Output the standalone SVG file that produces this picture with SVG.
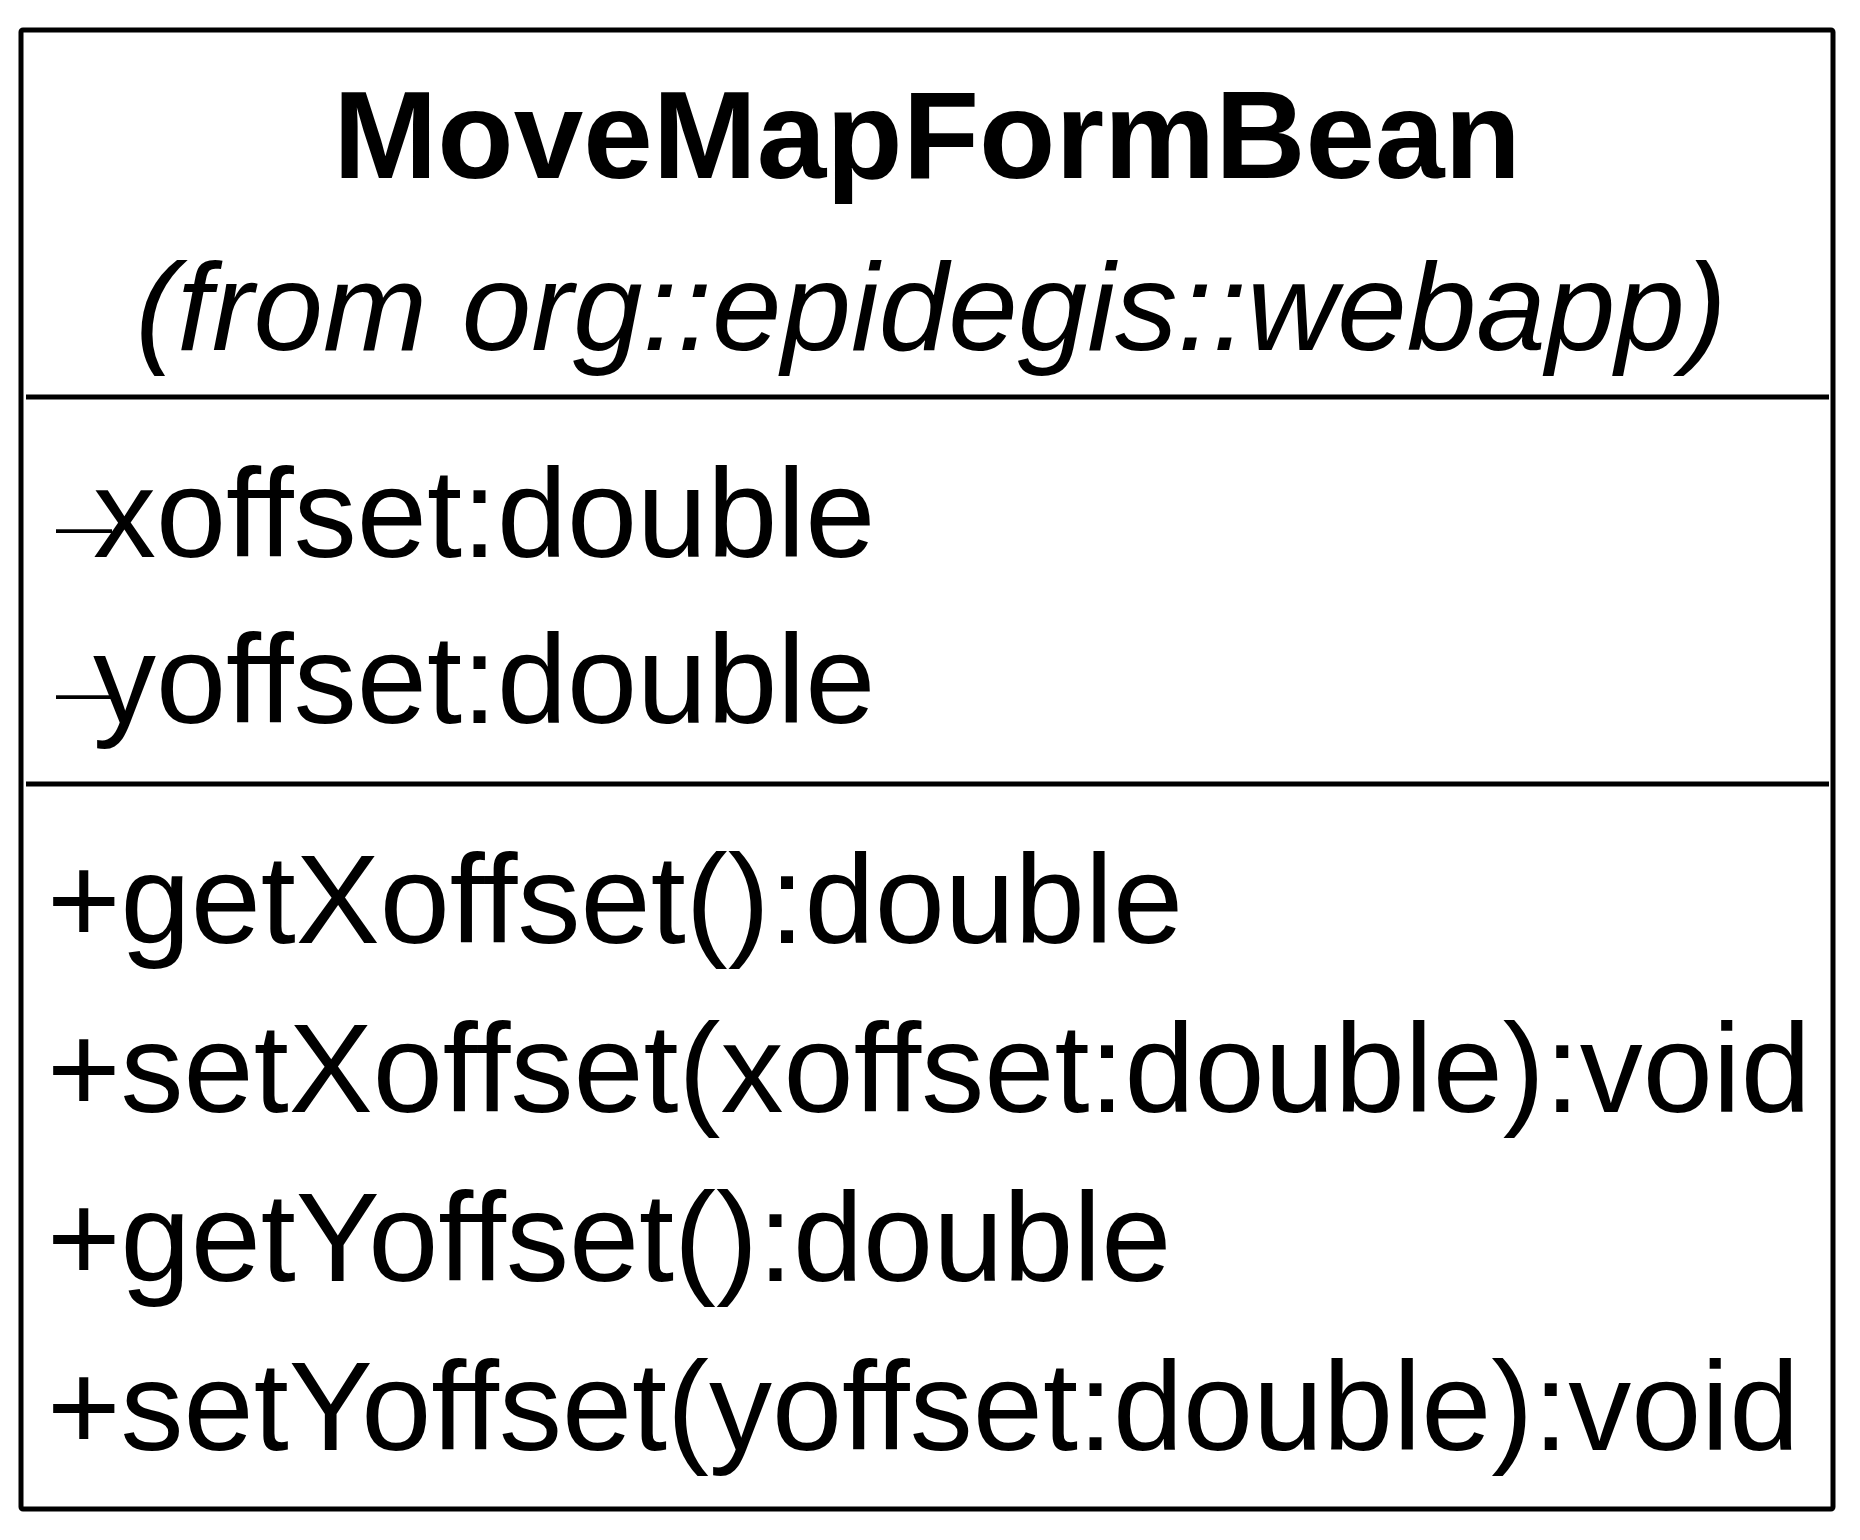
<svg xmlns="http://www.w3.org/2000/svg" width="1860" height="1540" viewBox="0 0 1860 1540">
<style>
.box{fill:#fff;stroke:#000;stroke-width:5;stroke-linejoin:round}
.div{stroke:#000;stroke-width:5}
.t{font-family:"Liberation Sans",Arial,sans-serif;font-size:126px;fill:#000}
.h{font-size:125px}
.b{font-weight:bold}
.i{font-style:italic}
.m{text-anchor:middle}
.dash{font-size:56px}
</style>
<rect width="1860" height="1540" fill="#fff"/>
<g id="MoveMapFormBean">
<rect class="box" x="21" y="30" width="1812" height="1479" rx="2"/>
<text class="t h b m" x="927" y="178">MoveMapFormBean</text>
<text class="t h i m" x="931" y="350">(from org::epidegis::webapp)</text>
<line class="div" x1="26" y1="397" x2="1829" y2="397"/>
<text class="t" x="56" y="557"><tspan class="dash" dy="-12">—</tspan><tspan x="93" dy="12">xoffset:double</tspan></text>
<text class="t" x="56" y="723"><tspan class="dash" dy="-12">—</tspan><tspan x="93" dy="12">yoffset:double</tspan></text>
<line class="div" x1="26" y1="784" x2="1829" y2="784"/>
<text class="t" x="47" y="943">+getXoffset():double</text>
<text class="t" x="47" y="1112">+setXoffset(xoffset:double):void</text>
<text class="t" x="47" y="1281">+getYoffset():double</text>
<text class="t" x="47" y="1450">+setYoffset(yoffset:double):void</text>
</g>
<g id="connectors"/>
</svg>
